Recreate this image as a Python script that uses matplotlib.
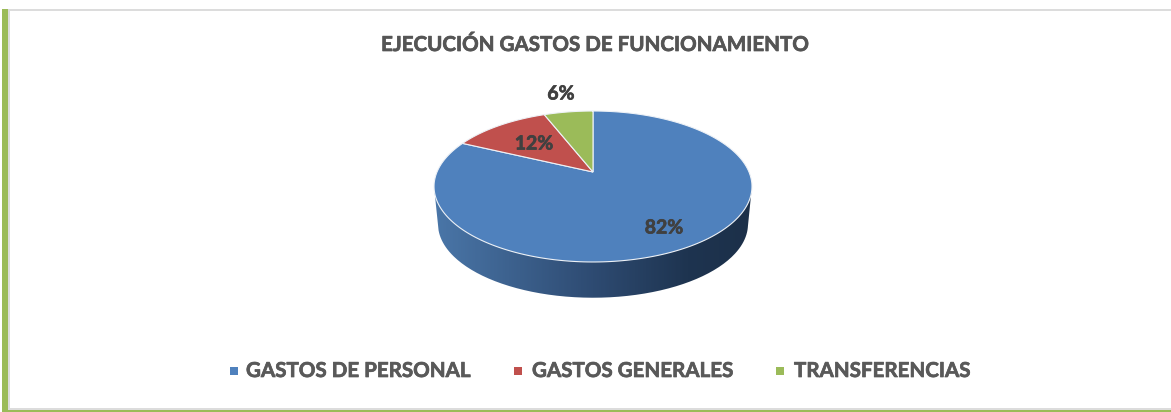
import numpy as np
import matplotlib
matplotlib.use('Agg')
import matplotlib.pyplot as plt
import matplotlib.patheffects as pe
from matplotlib.path import Path
from matplotlib.patches import PathPatch, Rectangle
from matplotlib.colors import LinearSegmentedColormap
from matplotlib.transforms import Affine2D

categorias = ['GASTOS DE PERSONAL', 'GASTOS GENERALES', 'TRANSFERENCIAS']
valores = [82, 12, 6]
etiquetas = ['82%', '12%', '6%']
colores = ['#4f81bd', '#c0504d', '#9bbb59']

plt.rcParams['font.family'] = ['Lato', 'DejaVu Sans']

W, H = 1171, 412
fig = plt.figure(figsize=(W/100, H/100), dpi=100)
ax = fig.add_axes([0, 0, 1, 1])
ax.set_xlim(0, W)
ax.set_ylim(H, 0)
ax.axis('off')

# perspectiva del disco
cx, cy = 593, 172
a, b, k = 156, 72.7, 0.192

def proy(v, dy=0, esc=1.0):
    w = 1 + k*v[:, 1]
    return np.column_stack([cx + esc*a*v[:, 0]/w, cy + dy - esc*b*v[:, 1]/w])

# marco
ax.add_patch(Rectangle((2, 9), 6, H-9, color='#9bbb59', lw=0))
ax.add_patch(Rectangle((8, 9), 2, H-9, color='#dcdcdc', lw=0))
ax.add_patch(Rectangle((8, 9), W-8, 1.6, color='#dcdcdc', lw=0))
ax.add_patch(Rectangle((8, 408), W-8, 2, color='#dcdcdc', lw=0))
ax.add_patch(Rectangle((2, 410), W-2, 2, color='#9bbb59', lw=0))

# pared lateral con degradado
t = np.linspace(0, 2*np.pi, 400)
circ = np.column_stack([np.cos(t), np.sin(t)])
arriba = proy(circ)
abajo = proy(circ, dy=38, esc=0.975)
izq = arriba[np.argmin(arriba[:, 0])]
der = arriba[np.argmax(arriba[:, 0])]
sup = arriba[arriba[:, 1] < 187]
borde = abajo[abajo[:, 1] > 225]
borde = borde[np.argsort(borde[:, 0])]
sup = sup[np.argsort(-sup[:, 0])]
lado = np.vstack([[izq], borde, [der], sup])
cmap = LinearSegmentedColormap.from_list('lado', [(0, '#4a76a8'), (0.5, '#2e4b72'), (0.8, '#1e3450'), (1, '#1c3049')])
img = ax.imshow(np.linspace(0, 1, 300).reshape(1, -1), extent=(434, 752, 300, 180), cmap=cmap, aspect='auto', zorder=1)
clip = PathPatch(Path(lado), transform=ax.transData, fc='none', ec='none')
ax.add_patch(clip)
img.set_clip_path(clip)
ax.set_xlim(0, W)
ax.set_ylim(H, 0)

# porciones: ax.pie y luego se proyectan a mano
aux = fig.add_axes([0, 0, 0.01, 0.01])
cunas, _ = aux.pie(valores, startangle=90, counterclock=False, colors=colores)
for c, col in zip(cunas, colores):
    trans = c.get_patch_transform() + Affine2D().scale(1000)
    p = trans.transform_path(c.get_path()).to_polygons(closed_only=True)[0] / 1000
    ax.add_patch(PathPatch(Path(proy(p)), fc=col, ec='#eef2f7', lw=0.8, zorder=2))
aux.remove()

# textos
ax.text(594, 45, 'EJECUCIÓN GASTOS DE FUNCIONAMIENTO', ha='center', va='center', fontsize=14.8, fontweight='bold', color='#555555', path_effects=[pe.withStroke(linewidth=0.5, foreground='#555555')])
pos_etq = [(664, 228), (534, 144), (561, 94)]
for e, (x, y) in zip(etiquetas, pos_etq):
    ax.text(x, y, e, ha='center', va='center', fontsize=14, fontweight='bold', color='#404040', zorder=3, path_effects=[pe.withStroke(linewidth=0.5, foreground='#404040')])

pos_ley = [(230, 246), (514, 532), (776, 794)]
for cat, col, (xm, xt) in zip(categorias, colores, pos_ley):
    ax.add_patch(Rectangle((xm, 367), 8, 8, color=col, lw=0))
    ax.text(xt, 371, cat, ha='left', va='center', fontsize=14.8, fontweight='bold', color='#595959', path_effects=[pe.withStroke(linewidth=0.5, foreground='#595959')])

fig.savefig('out.png', dpi=100)
